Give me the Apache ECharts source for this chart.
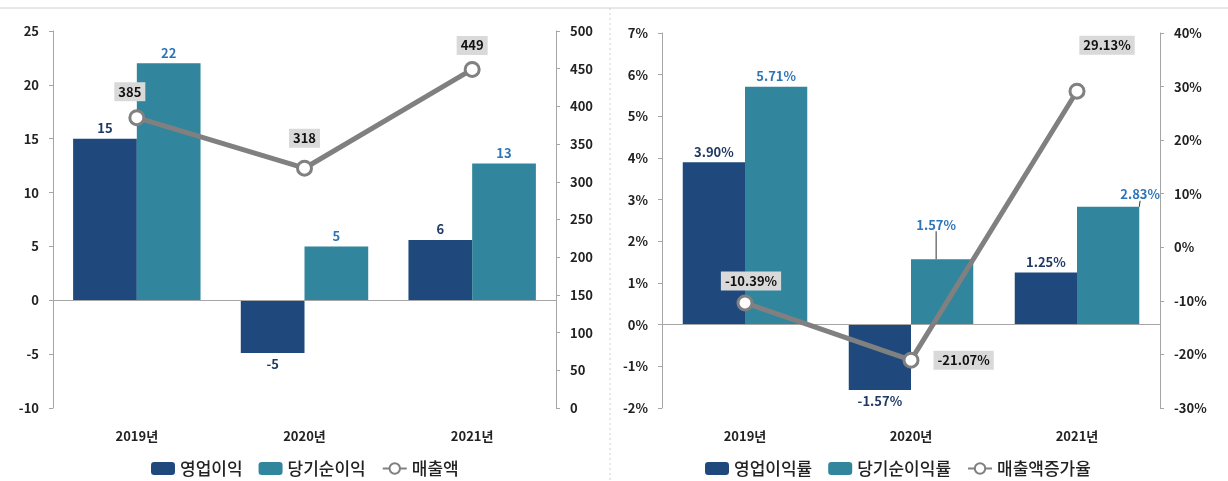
<!DOCTYPE html>
<html><head><meta charset="utf-8">
<script src="https://cdn.jsdelivr.net/npm/echarts@6/dist/echarts.min.js"></script>
<style>html,body{margin:0;padding:0;background:#fff}#c{width:1228px;height:481px}</style>
</head><body><div id="c"></div>
<script>
const categories = ['2019년', '2020년', '2021년'];
const opProfit = [15, -4.9, 5.6];
const netProfit = [22, 5.0, 12.7];
const sales = [385, 318, 449];
const opMargin = [3.90, -1.57, 1.25];
const netMargin = [5.71, 1.57, 2.83];
const salesGrowth = [-10.39, -21.07, 29.13];
const leftTicksL = {min: -10, max: 25, interval: 5};
const leftTicksR = {min: 0, max: 500, interval: 50};
const rightTicksL = {min: -2, max: 7, interval: 1};
const rightTicksR = {min: -30, max: 40, interval: 10};

const FONT = '"Noto Sans CJK KR", "Noto Sans", sans-serif';
const DARK = '#1f497d', TEAL = '#31859c', GREY = '#808080';
const DARK_LBL = '#1f3864', TEAL_LBL = '#2e75b6';

function barData(arr, leaders) {
  return arr.map((v, i) => ({value: v, label: {position: v < 0 ? 'bottom' : 'top'},
    labelLine: {show: !!(leaders && leaders[i])}}));
}
function lineData(arr, labelOpts) {
  return arr.map((v, i) => ({value: v, label: labelOpts[i]}));
}
const axisLbl = {fontFamily: FONT, fontSize: 13, fontWeight: 'bold', color: '#222'};
function yAx(grid, t, pos, fmt) {
  return {
    type: 'value', gridIndex: grid, position: pos, min: t.min, max: t.max, interval: t.interval,
    splitLine: {show: false},
    axisLine: {show: true, lineStyle: {color: '#a6a6a6'}},
    axisTick: {show: true, length: 4, lineStyle: {color: '#a6a6a6'}},
    axisLabel: Object.assign({margin: 14, formatter: fmt || '{value}'}, axisLbl)
  };
}
const zeroLine = {silent: true, symbol: 'none', label: {show: false},
  lineStyle: {color: '#a6a6a6', width: 1, type: 'solid'}, data: [{yAxis: 0}]};
const lineLbl = {show: true, fontFamily: FONT, fontSize: 13, fontWeight: 'bold', color: '#111',
  backgroundColor: '#d9d9d9', padding: [3, 4]};
const legendText = {fontFamily: FONT, fontSize: 17, fontWeight: 500, color: '#222'};

const chart = echarts.init(document.getElementById('c'));
chart.setOption({
  animation: false,
  textStyle: {fontFamily: FONT},
  graphic: [
    {type: 'line', shape: {x1: 0, y1: 8, x2: 1228, y2: 8}, style: {stroke: '#d0d0d0', lineWidth: 1}},
    {type: 'line', shape: {x1: 610, y1: 8, x2: 610, y2: 481}, style: {stroke: '#d0d0d0', lineWidth: 1, lineDash: [2, 3]}}
  ],
  grid: [
    {left: 53, right: 672, top: 31, bottom: 73},
    {left: 662, right: 68, top: 33, bottom: 73}
  ],
  legend: [
    {left: 146, top: 455, itemWidth: 24, itemHeight: 13, itemGap: 16, textStyle: legendText,
      data: ['영업이익', '당기순이익', '매출액']},
    {left: 700, top: 455, itemWidth: 24, itemHeight: 13, itemGap: 16, textStyle: legendText,
      data: ['영업이익률', '당기순이익률', '매출액증가율']}
  ],
  xAxis: [0, 1].map(g => ({
    type: 'category', gridIndex: g, data: categories,
    axisLine: {show: false}, axisTick: {show: false},
    axisLabel: Object.assign({margin: 22}, axisLbl)
  })),
  yAxis: [
    yAx(0, leftTicksL, 'left'),
    yAx(0, leftTicksR, 'right'),
    yAx(1, rightTicksL, 'left', '{value}%'),
    yAx(1, rightTicksR, 'right', '{value}%')
  ],
  series: [
    {name: '영업이익', type: 'bar', xAxisIndex: 0, yAxisIndex: 0, barGap: '0%', barCategoryGap: '24%',
      itemStyle: {color: DARK}, data: barData(opProfit), markLine: zeroLine,
      label: {show: true, distance: 4, fontFamily: FONT, fontSize: 13, fontWeight: 'bold', color: DARK_LBL,
        formatter: p => Math.round(p.value)}},
    {name: '당기순이익', type: 'bar', xAxisIndex: 0, yAxisIndex: 0, barGap: '0%', barCategoryGap: '24%',
      itemStyle: {color: TEAL}, data: barData(netProfit),
      label: {show: true, distance: 4, fontFamily: FONT, fontSize: 13, fontWeight: 'bold', color: TEAL_LBL,
        formatter: p => Math.round(p.value)}},
    {name: '매출액', type: 'line', xAxisIndex: 0, yAxisIndex: 1, z: 5,
      symbol: 'circle', symbolSize: 14,
      lineStyle: {color: GREY, width: 5}, itemStyle: {color: '#fff', borderColor: GREY, borderWidth: 3},
      label: lineLbl,
      data: lineData(sales, [
        {position: 'top', distance: 8, offset: [-7, 0]},
        {position: 'top', distance: 12},
        {position: 'top', distance: 6}
      ])},
    {name: '영업이익률', type: 'bar', xAxisIndex: 1, yAxisIndex: 2, barGap: '0%', barCategoryGap: '25%',
      itemStyle: {color: DARK}, data: barData(opMargin), markLine: zeroLine,
      label: {show: true, distance: 4, fontFamily: FONT, fontSize: 13, fontWeight: 'bold', color: DARK_LBL,
        formatter: p => p.value.toFixed(2) + '%'}},
    {name: '당기순이익률', type: 'bar', xAxisIndex: 1, yAxisIndex: 2, barGap: '0%', barCategoryGap: '25%',
      itemStyle: {color: TEAL}, data: barData(netMargin, [false, true, true]),
      label: {show: true, distance: 4, fontFamily: FONT, fontSize: 13, fontWeight: 'bold', color: TEAL_LBL,
        formatter: p => p.value.toFixed(2) + '%'},
      labelLine: {lineStyle: {color: '#333', width: 1}},
      labelLayout: function (p) {
        if (p.dataIndex === 1) return {dy: -24, dx: -6};
        if (p.dataIndex === 2) return {dy: -2, dx: 32};
        return {};
      }},
    {name: '매출액증가율', type: 'line', xAxisIndex: 1, yAxisIndex: 3, z: 5,
      symbol: 'circle', symbolSize: 14,
      lineStyle: {color: GREY, width: 5}, itemStyle: {color: '#fff', borderColor: GREY, borderWidth: 3},
      label: Object.assign({}, lineLbl, {formatter: p => p.value.toFixed(2) + '%'}),
      data: lineData(salesGrowth, [
        {position: 'top', distance: 4, offset: [6, 0]},
        {position: 'right', distance: 14},
        {position: 'top', distance: 28, offset: [30, 0]}
      ])}
  ]
});
</script></body></html>
